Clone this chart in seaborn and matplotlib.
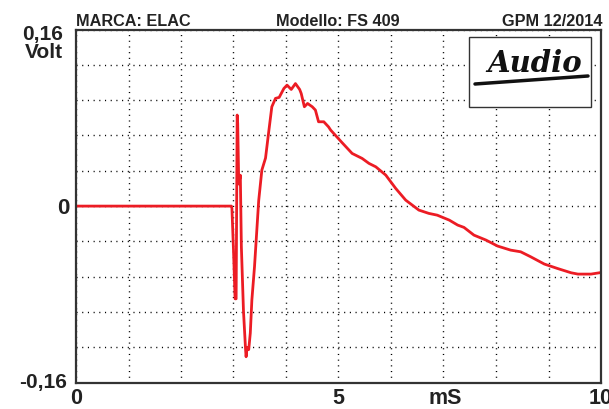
import numpy as np
import pandas as pd
import matplotlib
matplotlib.use("Agg")
import matplotlib.pyplot as plt
import seaborn as sns
from matplotlib.patches import Rectangle

# ---- data ----
time_ms = [0.0, 2.96, 2.97, 3.00, 3.03, 3.05, 3.07, 3.08, 3.10, 3.12, 3.13, 3.15,
           3.19, 3.23, 3.24, 3.26, 3.29, 3.32, 3.35, 3.40, 3.48, 3.54, 3.61, 3.67,
           3.73, 3.80, 3.87, 3.96, 4.02, 4.10, 4.18, 4.26, 4.29, 4.35, 4.41, 4.50,
           4.56, 4.62, 4.72, 4.81, 4.85, 5.07, 5.26, 5.45, 5.58, 5.71, 5.90, 6.09,
           6.28, 6.53, 6.72, 6.88, 7.11, 7.27, 7.39, 7.58, 7.81, 8.03, 8.28, 8.47,
           8.66, 8.92, 9.17, 9.43, 9.56, 9.81, 9.97, 10.0]
volt = [0.0, 0.0, -0.002, -0.04, -0.084, -0.084, 0.0825, 0.075, 0.020, 0.025, 0.028, -0.037,
        -0.095, -0.130, -0.1365, -0.128, -0.130, -0.115, -0.085, -0.055, 0.005, 0.0326, 0.0435, 0.067,
        0.090, 0.0976, 0.0985, 0.1066, 0.1096, 0.1057, 0.111, 0.1057, 0.102, 0.090, 0.093, 0.090,
        0.087, 0.0764, 0.0764, 0.0718, 0.0689, 0.0574, 0.0477, 0.0432, 0.0387, 0.0356, 0.0281, 0.016,
        0.0054, -0.0036, -0.0066, -0.0082, -0.0127, -0.0172, -0.0193, -0.0263, -0.0308, -0.0362, -0.0399, -0.0414,
        -0.0459, -0.0525, -0.0565, -0.0604, -0.0616, -0.0616, -0.0604, -0.0602]

x_ticks = [0, 5, 10]
x_tick_labels = ["0", "5", "10"]
y_ticks = [-0.16, 0.0, 0.16]
y_tick_labels = ["-0,16", "0", "0,16"]
title_left = "MARCA: ELAC"
title_mid = "Modello: FS 409"
title_right = "GPM 12/2014"
x_unit = "mS"
y_unit = "Volt"

df = pd.DataFrame({"t": time_ms, "v": volt})

sns.set_style("white")
plt.rcParams["font.family"] = ["Liberation Sans", "DejaVu Sans"]
plt.rcParams["font.weight"] = "bold"

TXT = "#222222"
W, H = 609, 409
fig = plt.figure(figsize=(W / 100, H / 100), dpi=100)
ax = fig.add_axes([76 / W, 1 - 382.7 / H, (601 - 76) / W, (382.7 - 29.5) / H])

sns.lineplot(data=df, x="t", y="v", ax=ax, color="#ec1c24", linewidth=2.0,
             estimator=None, sort=False, legend=False)

ax.set_xlim(0, 10)
ax.set_ylim(-0.16, 0.16)
ax.set_xticks(x_ticks)
ax.set_xticklabels(x_tick_labels)
ax.set_yticks(y_ticks)
ax.set_yticklabels([""] * len(y_ticks))
ax.set_xticks(np.arange(0, 10.01, 1), minor=True)
ax.set_yticks(np.linspace(-0.16, 0.16, 11), minor=True)
ax.tick_params(axis="both", which="both", length=0)
ax.tick_params(axis="x", pad=3.5, labelsize=15.5, labelcolor=TXT)
for lab in ax.get_xticklabels():
    lab.set_fontweight("bold")
ax.grid(True, which="both", color="black", linestyle=(0, (0.8, 3.3)), linewidth=1.0)
ax.set_axisbelow(True)
ax.set_xlabel("")
ax.set_ylabel("")
for s in ax.spines.values():
    s.set_visible(True)
    s.set_color("#333333")
    s.set_linewidth(1.6)

# y tick labels, placed individually as in the reference
y_label_pos = [(67, 388, 15), (69, 214.5, 16), (63, 40, 15)]  # (right x px, baseline px, size)
for (xr, yb, fs), lab in zip(y_label_pos, y_tick_labels):
    fig.text(xr / W, 1 - yb / H, lab, ha="right", va="baseline", fontsize=fs,
             fontweight="bold", color=TXT)
fig.text(63 / W, 1 - 57.5 / H, y_unit, ha="right", va="baseline", fontsize=15,
         fontweight="bold", color=TXT)

# x unit label, aligned with the x tick labels
ax.annotate(x_unit, xy=(7.04, 0), xycoords=("data", "axes fraction"),
            xytext=(0, -3.5), textcoords="offset points", ha="center", va="top",
            fontsize=15.5, fontweight="bold", color=TXT, annotation_clip=False)

# header texts
fig.text(76 / W, 1 - 26 / H, title_left, ha="left", va="baseline", fontsize=11.7,
         fontweight="bold", color=TXT)
fig.text(338 / W, 1 - 26 / H, title_mid, ha="center", va="baseline", fontsize=11.7,
         fontweight="bold", color=TXT)
fig.text(603 / W, 1 - 26 / H, title_right, ha="right", va="baseline", fontsize=11.7,
         fontweight="bold", color=TXT)

# logo box
box = Rectangle((469 / W, 1 - 107 / H), (591 - 469) / W, (107 - 37) / H,
                transform=fig.transFigure, facecolor="white", edgecolor="#333333",
                linewidth=1.0, zorder=5)
fig.patches.append(box)
fig.text(535 / W, 1 - 64 / H, "Audio", ha="center", va="center", fontsize=21,
         fontstyle="italic", fontweight="bold", family="DejaVu Serif",
         color="#111111", zorder=6)
fig.lines.append(plt.Line2D([475 / W, 588 / W], [1 - 84 / H, 1 - 76 / H],
                            transform=fig.transFigure, color="#111111", linewidth=2.5, zorder=6))

fig.savefig("out.png", dpi=100)
